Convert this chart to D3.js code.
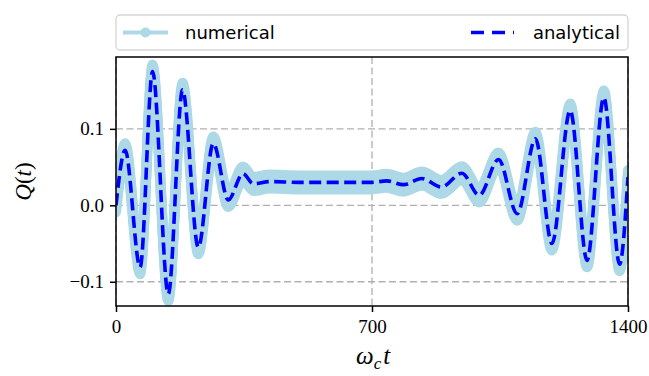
<!DOCTYPE html>
<html>
<head>
<meta charset="utf-8">
<script src="https://cdn.jsdelivr.net/npm/d3@7"></script>
<style>
  body { margin: 0; background: #fff; }
  svg { display: block; }
</style>
</head>
<body>
<svg width="649" height="376"></svg>
<script>
// key points of Q(t) (extrema + flat part)
var times = [0, 25, 66, 100, 143, 182, 225, 266, 307, 347, 376, 420, 500, 600, 700, 740, 786, 836, 890, 946, 993, 1046, 1097, 1147, 1192, 1242, 1288, 1334, 1377, 1400];
var numericalQ = [0.0, 0.072, -0.081, 0.175, -0.116, 0.151, -0.055, 0.081, 0.007, 0.0415, 0.028, 0.031, 0.030, 0.030, 0.030, 0.032, 0.027, 0.035, 0.024, 0.042, 0.013, 0.060, -0.011, 0.087, -0.050, 0.124, -0.072, 0.141, -0.077, 0.037];
var analyticalQ = [0.0, 0.072, -0.081, 0.175, -0.116, 0.151, -0.055, 0.081, 0.007, 0.0415, 0.028, 0.031, 0.030, 0.030, 0.030, 0.032, 0.027, 0.035, 0.024, 0.042, 0.013, 0.060, -0.011, 0.087, -0.050, 0.124, -0.072, 0.141, -0.077, 0.037];
var xTicks = [0, 700, 1400];
var yTicks = [-0.1, 0.0, 0.1];
var seriesNames = ["numerical", "analytical"];

var svg = d3.select("svg");
// plot box (don't use "top" as a global, it clashes with window.top)
var pLeft = 116, pRight = 628, pTop = 57, pBottom = 306;

var x = d3.scaleLinear().domain([0, 1400]).range([pLeft, pRight]);
var y = d3.scaleLinear().domain([-0.1317, 0.194]).range([pBottom, pTop]);

var serif = "'Liberation Serif', 'DejaVu Serif', serif";
var sans = "'DejaVu Sans', sans-serif";

svg.append("defs").append("clipPath").attr("id", "plotclip")
  .append("rect")
  .attr("x", pLeft).attr("y", pTop)
  .attr("width", pRight - pLeft).attr("height", pBottom - pTop);

// grid
svg.append("g").selectAll("line")
  .data(yTicks)
  .enter().append("line")
  .attr("x1", pLeft).attr("x2", pRight)
  .attr("y1", function(d){ return y(d) }).attr("y2", function(d){ return y(d) })
  .attr("stroke", "#b0b0b0").attr("stroke-width", 1.3)
  .attr("stroke-dasharray", "7,3.5");

svg.append("g").selectAll("line")
  .data(xTicks)
  .enter().append("line")
  .attr("x1", function(d){ return x(d) }).attr("x2", function(d){ return x(d) })
  .attr("y1", pTop).attr("y2", pBottom)
  .attr("stroke", "#b0b0b0").attr("stroke-width", 1.3)
  .attr("stroke-dasharray", "7,3.5");

var numData = times.map(function(t, i){ return [t, numericalQ[i]] });
var anaData = times.map(function(t, i){ return [t, analyticalQ[i]] });

var line = d3.line()
  .x(function(d){ return x(d[0]) })
  .y(function(d){ return y(d[1]) })
  .curve(d3.curveMonotoneX);

var plot = svg.append("g").attr("clip-path", "url(#plotclip)");

// numerical: dense fast wiggle makes a band, drawn as a few shifted strokes
plot.selectAll("path.num")
  .data([-7, -3.5, 0, 3.5, 7])
  .enter().append("path")
  .attr("class", "num")
  .attr("d", line(numData))
  .attr("transform", function(d){ return "translate(0," + d + ")" })
  .attr("fill", "none")
  .attr("stroke", "#add8e6")
  .attr("stroke-width", 10)
  .attr("stroke-linejoin", "round")
  .attr("stroke-linecap", "round");

plot.append("path")
  .attr("d", line(anaData))
  .attr("fill", "none")
  .attr("stroke", "#0000ff")
  .attr("stroke-width", 3.6)
  .attr("stroke-dasharray", "12,5.5");

// axes frame
svg.append("rect")
  .attr("x", pLeft).attr("y", pTop)
  .attr("width", pRight - pLeft).attr("height", pBottom - pTop)
  .attr("fill", "none").attr("stroke", "#000").attr("stroke-width", 1.5);

var xAxis = svg.append("g")
  .attr("transform", "translate(0," + pBottom + ")")
  .call(d3.axisBottom(x).tickValues(xTicks).tickSize(6).tickPadding(8).tickFormat(d3.format("d")));
var yAxis = svg.append("g")
  .attr("transform", "translate(" + pLeft + ",0)")
  .call(d3.axisLeft(y).tickValues(yTicks).tickSize(6).tickPadding(6).tickFormat(d3.format(".1f")));

[xAxis, yAxis].forEach(function(a){
  a.attr("font-family", null).attr("font-size", null);
  a.select(".domain").remove();
  a.selectAll(".tick line").attr("stroke", "#000").attr("stroke-width", 1.5);
  a.selectAll(".tick text").attr("fill", "#000").style("font-family", serif).style("font-size", "19px");
});

// axis labels
var xl = svg.append("text")
  .attr("x", (pLeft + pRight) / 2 - 16)
  .attr("y", 364)
  .style("font-family", serif).style("font-size", "25px").style("font-style", "italic");
xl.append("tspan").text("ω");
xl.append("tspan").attr("dy", 5).style("font-size", "17px").text("c");
xl.append("tspan").attr("dy", -5).attr("dx", 2).text("t");

svg.append("text")
  .attr("transform", "translate(31," + ((pTop + pBottom) / 2) + ") rotate(-90)")
  .attr("text-anchor", "middle")
  .style("font-family", serif).style("font-size", "23px")
  .html("<tspan font-style='italic'>Q</tspan>(<tspan font-style='italic'>t</tspan>)");

// legend
var legend = svg.append("g");
legend.append("rect")
  .attr("x", 116).attr("y", 15).attr("width", 512).attr("height", 35)
  .attr("rx", 4)
  .attr("fill", "#fff").attr("stroke", "#d6d6d6").attr("stroke-width", 1.3);

legend.append("line")
  .attr("x1", 123).attr("x2", 168).attr("y1", 32.5).attr("y2", 32.5)
  .attr("stroke", "#add8e6").attr("stroke-width", 4);
legend.append("circle")
  .attr("cx", 145.5).attr("cy", 32.5).attr("r", 5)
  .attr("fill", "#add8e6");
legend.append("text")
  .attr("x", 185).attr("y", 32.5).attr("dy", "0.35em")
  .style("font-family", sans).style("font-size", "18px").attr("fill", "#000")
  .text(seriesNames[0]);

legend.append("line")
  .attr("x1", 471).attr("x2", 514).attr("y1", 32.5).attr("y2", 32.5)
  .attr("stroke", "#0000ff").attr("stroke-width", 3.6)
  .attr("stroke-dasharray", "13,8");
legend.append("text")
  .attr("x", 620).attr("y", 32.5).attr("dy", "0.35em")
  .attr("text-anchor", "end")
  .style("font-family", sans).style("font-size", "18px").attr("fill", "#000")
  .text(seriesNames[1]);
</script>
</body>
</html>
